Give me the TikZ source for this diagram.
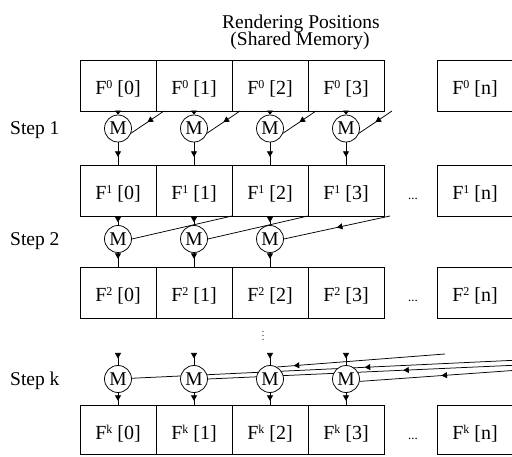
\documentclass[tikz,border=0pt]{standalone}
\usepackage{fontspec}
\setmainfont{Liberation Serif}
\usetikzlibrary{arrows.meta,decorations.markings}
\pgfdeclarelayer{background}
\pgfsetlayers{background,main}
\newcommand{\fsz}{\fontsize{20}{24}\selectfont}
\newcommand{\lsz}{\fontsize{19.5}{23}\selectfont}
\newcommand{\fsup}[1]{\raisebox{5.5pt}{\fontsize{12}{12}\selectfont #1}}
\tikzset{
  cell/.style={draw, line width=0.75pt, minimum width=76pt, inner sep=0pt,
    text height=19pt, text depth=1pt, font=\fsz},
  merge/.style={circle, draw, fill=white, line width=0.75pt, minimum size=27pt,
    inner sep=0pt, font=\lsz},
  caption/.style={font=\lsz, inner sep=0pt},
  link/.style={line width=0.75pt},
  tipat/.style={postaction={decorate}, decoration={markings,
    mark=at position #1 with {\arrow{Triangle[length=5.5pt,width=6pt]}}}},
}
\begin{document}
\begin{tikzpicture}[x=1pt,y=-1pt]
\useasboundingbox (0,0) rectangle (512,457);
\clip (0,0) rectangle (512,457);

% heading
\node[caption, anchor=base] (head1) at (301,28.3) {Rendering Positions};
\node[caption, anchor=base] (head2) at (300,46) {(Shared Memory)};

% rows of the shared array F^s[i]
\foreach \r/\y/\h in {0/85.5/51pt, 1/190.5/51pt, 2/292.5/51pt, k/430/49pt} {
  \foreach \i/\x in {0/118, 1/194, 2/270, 3/346} {
    \node[cell, minimum height=\h] (r\r c\i) at (\x,\y) {F\fsup{\r} [\i]};
  }
  \node[cell, minimum height=\h] (r\r cn) at (475,\y) {F\fsup{\r} [n]};
}

% gaps in the rows
\node[font=\fontsize{13}{13}\selectfont, anchor=base, inner sep=0pt] (gap1) at (413,199.5) {...};
\node[font=\fontsize{13}{13}\selectfont, anchor=base, inner sep=0pt] (gap2) at (413,301.5) {...};
\node[font=\fontsize{13}{13}\selectfont, anchor=base, inner sep=0pt] (gapk) at (413,439) {...};
\node[inner sep=0pt, text=black!70, font=\fontsize{12}{12}\selectfont] (skip) at (263,333) {$\vdots$};

% step labels
\node[caption, anchor=base west] (step1) at (10,135) {Step 1};
\node[caption, anchor=base west] (step2) at (10,245.5) {Step 2};
\node[caption, anchor=base west] (stepk) at (10,385.5) {Step k};

% merge units
\foreach \i/\x in {0/118, 1/194, 2/270, 3/346} {
  \node[merge] (s1m\i) at (\x,128.5) {M};
  \node[merge] (skm\i) at (\x,379) {M};
  \coordinate (tk\i) at (\x,353);
}
\foreach \i/\x in {0/118, 1/194, 2/270} {
  \node[merge] (s2m\i) at (\x,239) {M};
}

% step 1: vertical feeds and diagonal partners
\foreach \i/\dx in {0/164, 1/240, 2/316, 3/392} {
  \draw[link, -{Triangle[length=4pt,width=6pt]}] (r0c\i.south) -- (s1m\i.north);
  \draw[link, tipat=14.5pt] (s1m\i.south) -- (r1c\i.north);
  \coordinate (d1\i) at (\dx,111);
  \draw[link, tipat=0.5] (d1\i) -- (s1m\i.-20);
}

% step 2
\foreach \i in {0,1,2} {
  \draw[link, tipat=6pt] (r1c\i.south) -- (s2m\i.north);
  \draw[link, tipat=6pt] (s2m\i.south) -- (r2c\i.north);
}
\coordinate (d20) at (232,216);
\coordinate (d21) at (308,216);
\coordinate (d22) at (390,216);
\draw[link] (d20) -- (s2m0.east);
\draw[link] (d21) -- (s2m1.east);
\draw[link, tipat=0.5] (d22) -- (s2m2.east);

% step k
\foreach \i in {0,1,2,3} {
  \draw[link, tipat=5.5pt] (tk\i) -- (skm\i.north);
  \draw[link, tipat=8pt] (skm\i.south) -- (rkc\i.north);
}
\coordinate (e0) at (520,360);
\coordinate (e1) at (520,365);
\coordinate (e2) at (445,354);
\coordinate (e3) at (520,370);
\begin{pgfonlayer}{background}
  \draw[link, tipat=0.40] (e0) -- (skm0.3);
  \draw[link, tipat=0.374] (e1) -- (skm1.0);
  \draw[link, tipat=0.90] (e2) -- (skm2.60);
  \draw[link, tipat=0.49] (e3) -- (skm3.-10);
\end{pgfonlayer}
\end{tikzpicture}
\end{document}
